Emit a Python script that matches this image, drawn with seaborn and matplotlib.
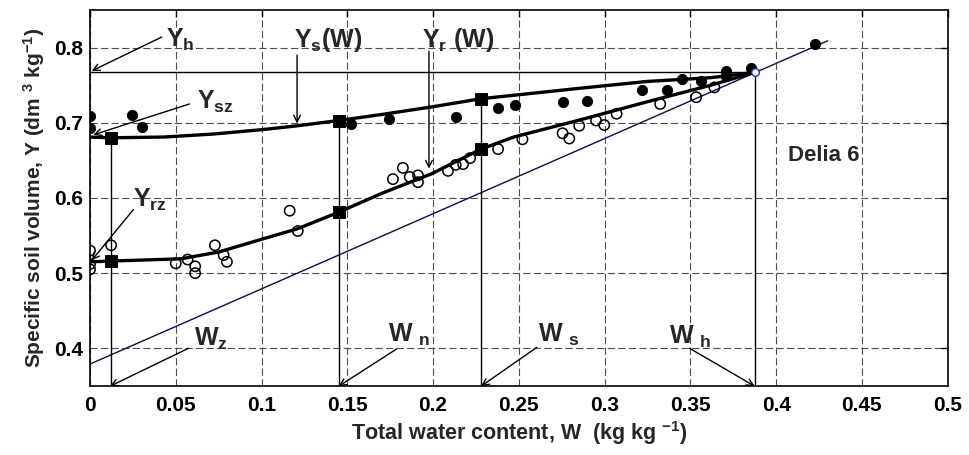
import numpy as np
import pandas as pd
import matplotlib
matplotlib.use("Agg")
import matplotlib.pyplot as plt
import seaborn as sns

# ---------------- data ----------------
# measured specific volume of soil (filled circles)
ys_obs_w = [0.0, 0.0, 0.0243, 0.0304, 0.1523, 0.1741, 0.2132, 0.2381, 0.2478, 0.2755,
            0.2897, 0.3217, 0.3364, 0.3452, 0.3559, 0.3705, 0.3705, 0.3855, 0.4227]
ys_obs_y = [0.709, 0.693, 0.710, 0.695, 0.698, 0.705, 0.707, 0.719, 0.723, 0.727,
            0.729, 0.744, 0.743, 0.758, 0.756, 0.769, 0.762, 0.773, 0.805]
# measured specific volume of aggregates (open circles)
yr_obs_w = [0.0, 0.0, 0.0, 0.0123, 0.050, 0.0569, 0.0613, 0.0613, 0.0728, 0.0779, 0.0798,
            0.1164, 0.1211, 0.1766, 0.1824, 0.1864, 0.1912, 0.1912, 0.2087, 0.2132,
            0.2175, 0.2216, 0.2379, 0.2521, 0.2755, 0.2794, 0.2852, 0.2950, 0.2998,
            0.3070, 0.3324, 0.3534, 0.3640]
yr_obs_y = [0.530, 0.512, 0.505, 0.537, 0.513, 0.518, 0.509, 0.500, 0.537, 0.524, 0.515,
            0.583, 0.556, 0.625, 0.640, 0.628, 0.630, 0.621, 0.636, 0.644,
            0.645, 0.653, 0.665, 0.678, 0.686, 0.679, 0.696, 0.703, 0.697,
            0.712, 0.725, 0.734, 0.747]
# model curves
ys_curve_w = [0.0, 0.012, 0.043, 0.072, 0.101, 0.121, 0.145, 0.170, 0.199, 0.228,
              0.286, 0.325, 0.362, 0.3875]
ys_curve_y = [0.681, 0.680, 0.681, 0.685, 0.691, 0.696, 0.703, 0.711, 0.721, 0.732,
              0.746, 0.755, 0.760, 0.767]
yr_curve_w = [0.0, 0.012, 0.053, 0.075, 0.100, 0.121, 0.145, 0.170, 0.199, 0.228,
              0.247, 0.286, 0.325, 0.362, 0.3875]
yr_curve_y = [0.515, 0.516, 0.519, 0.528, 0.545, 0.559, 0.581, 0.606, 0.632, 0.665,
              0.681, 0.704, 0.728, 0.750, 0.767]
# characteristic points  Wz, Wn, Ws
key_w = [0.012, 0.145, 0.228]
key_ys = [0.680, 0.703, 0.732]
key_yr = [0.516, 0.581, 0.665]
W_h, Y_h = 0.3875, 0.767
# saturation line
sat_w = [0.0, 0.430]
sat_y = [0.379, 0.809]

x_ticks = [0, 0.05, 0.1, 0.15, 0.2, 0.25, 0.3, 0.35, 0.4, 0.45, 0.5]
x_tick_labels = ["0", "0.05", "0.1", "0.15", "0.2", "0.25", "0.3", "0.35", "0.4", "0.45", "0.5"]
y_ticks = [0.4, 0.5, 0.6, 0.7, 0.8]
y_tick_labels = ["0.4", "0.5", "0.6", "0.7", "0.8"]

# ---------------- style ----------------
sns.set_style("white")
plt.rcParams["font.family"] = ["Liberation Sans", "DejaVu Sans"]
plt.rcParams["font.weight"] = "bold"
plt.rcParams["mathtext.fontset"] = "custom"
plt.rcParams["mathtext.rm"] = "Liberation Sans:bold"
plt.rcParams["mathtext.it"] = "Liberation Sans:bold"
plt.rcParams["mathtext.bf"] = "Liberation Sans:bold"
plt.rcParams["mathtext.default"] = "rm"

fig = plt.figure(figsize=(9.69, 4.55), dpi=100)
ax = fig.add_axes([0.0929, 0.152, 0.8851, 0.826])

ax.set_xlim(0, 0.5)
ax.set_ylim(0.35, 0.85)
ax.grid(True, linestyle=(0, (6.5, 3)), color="0.3", linewidth=0.8)
ax.set_axisbelow(True)

# saturation line
sns.lineplot(x=sat_w, y=sat_y, color="#0a0a50", linewidth=1.0, ax=ax, estimator=None, sort=False)
# Yh horizontal line
sns.lineplot(x=[0, W_h], y=[Y_h, Y_h], color="black", linewidth=1.0, ax=ax, estimator=None, sort=False)
# vertical lines
ax.vlines(key_w + [W_h], 0.35, key_ys + [Y_h], colors="black", linewidth=1.0)

# model curves
sns.lineplot(x=ys_curve_w, y=ys_curve_y, color="black", linewidth=2.4, ax=ax, estimator=None, sort=False)
sns.lineplot(x=yr_curve_w, y=yr_curve_y, color="black", linewidth=2.4, ax=ax, estimator=None, sort=False)

# observations
sns.scatterplot(x=ys_obs_w, y=ys_obs_y, marker="o", s=55, color="black", edgecolor="black", ax=ax, zorder=5)
sns.scatterplot(x=yr_obs_w, y=yr_obs_y, marker="o", s=55, facecolor="none", edgecolor="black",
                linewidth=1.1, ax=ax, zorder=5)
sns.scatterplot(x=key_w + key_w, y=key_ys + key_yr, marker="s", s=70, color="black",
                edgecolor="black", ax=ax, zorder=6)
sns.scatterplot(x=[W_h], y=[Y_h], marker="o", s=30, facecolor="white", edgecolor="#2030c0",
                linewidth=1.0, ax=ax, zorder=7)

# annotations
arrow = dict(arrowstyle="->", color="black", lw=1.0, shrinkA=0, shrinkB=0,
             mutation_scale=12)
fs = 18
def label(txt, x, y):
    ax.text(x, y, txt, fontsize=fs, fontweight="bold", ha="left", va="baseline", zorder=8)

def arr(x0, y0, x1, y1):
    ax.annotate("", xy=(x1, y1), xytext=(x0, y0), arrowprops=arrow, zorder=8)

label(r"Y$_{h}$", 0.0444, 0.801)
arr(0.0418, 0.814, 0.001, 0.769)
label(r"Y$_{sz}$", 0.0623, 0.718)
arr(0.058, 0.725, 0.002, 0.684)
label(r"Y$_{s}$(W)", 0.1188, 0.801)
arr(0.1207, 0.790, 0.1207, 0.699)
label(r"Y$_{r}$ (W)", 0.1938, 0.801)
arr(0.1976, 0.795, 0.1976, 0.639)
label(r"Y$_{rz}$", 0.0253, 0.588)
arr(0.0253, 0.5845, 0.001, 0.517)
label(r"W$_{z}$", 0.0604, 0.4036)
arr(0.0574, 0.400, 0.0117, 0.3495)
label(r"W $_{n}$", 0.174, 0.408)
arr(0.1787, 0.399, 0.145, 0.3495)
label(r"W $_{s}$", 0.2609, 0.408)
arr(0.2605, 0.4013, 0.228, 0.3495)
label(r"W $_{h}$", 0.3378, 0.406)
arr(0.3495, 0.400, 0.3875, 0.3495)

ax.text(0.4276, 0.657, "Delia 6", fontsize=16, fontweight="bold", ha="center", va="center")

# axes
ax.set_xticks(x_ticks)
ax.set_xticklabels(x_tick_labels)
ax.set_yticks(y_ticks)
ax.set_yticklabels(y_tick_labels)
ax.tick_params(axis="both", direction="in", length=5, width=1, top=True, right=True,
               labelsize=15, colors="black")
ax.tick_params(axis="x", pad=7)
ax.tick_params(axis="y", pad=5)
for t in ax.get_xticklabels() + ax.get_yticklabels():
    t.set_fontweight("bold")
for sp in ax.spines.values():
    sp.set_color("black")
    sp.set_linewidth(1.2)

ax.set_xlabel(r"Total water content, W  (kg kg $^{-1}$)", fontsize=15.5, fontweight="bold", labelpad=3)
ax.set_ylabel(r"Specific soil volume, Y (dm $^{3}$ kg$^{-1}$)", fontsize=15, fontweight="bold", labelpad=5)

fig.savefig("out.png", dpi=100)
